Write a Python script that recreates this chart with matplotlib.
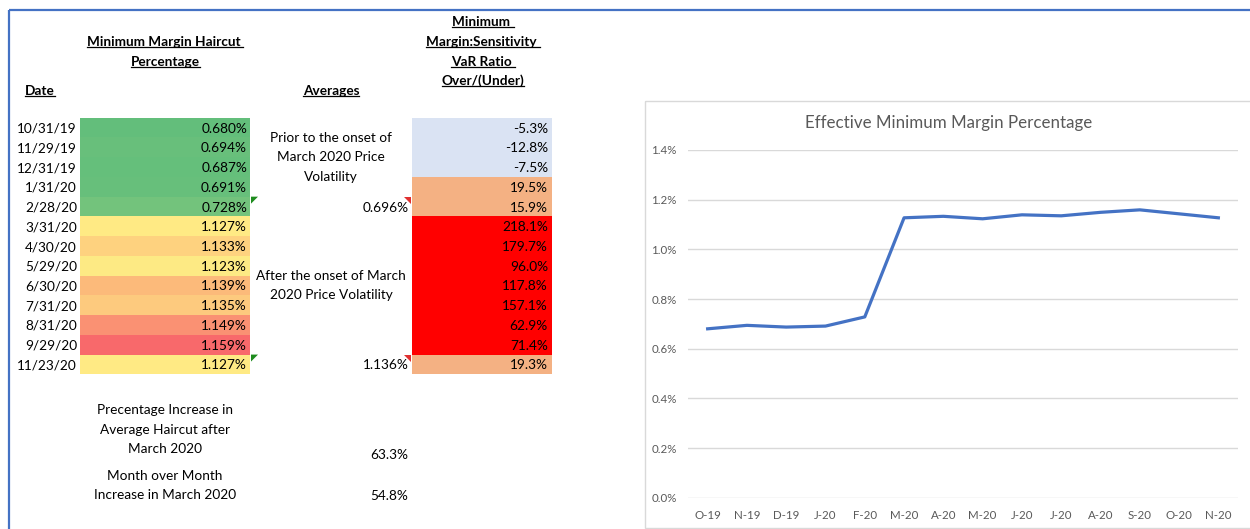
import matplotlib

matplotlib.use("Agg")
import matplotlib.pyplot as plt
import numpy as np
from matplotlib.colors import LinearSegmentedColormap, TwoSlopeNorm
from matplotlib.patches import Polygon, Rectangle
from matplotlib.ticker import PercentFormatter

plt.rcParams["font.family"] = ["Lato", "DejaVu Sans"]

# table data
dates = ["10/31/19", "11/29/19", "12/31/19", "1/31/20", "2/28/20", "3/31/20", "4/30/20",
         "5/29/20", "6/30/20", "7/31/20", "8/31/20", "9/29/20", "11/23/20"]
haircut_pct = [0.680, 0.694, 0.687, 0.691, 0.728, 1.127, 1.133,
               1.123, 1.139, 1.135, 1.149, 1.159, 1.127]
ratio_pct = [-5.3, -12.8, -7.5, 19.5, 15.9, 218.1, 179.7,
             96.0, 117.8, 157.1, 62.9, 71.4, 19.3]
avg_before = 0.696
avg_after = 1.136
pct_increase_avg = 63.3
mom_increase_march = 54.8

# chart data
chart_months = ["O-19", "N-19", "D-19", "J-20", "F-20", "M-20", "A-20",
                "M-20", "J-20", "J-20", "A-20", "S-20", "O-20", "N-20"]
effective_margin = [0.680, 0.694, 0.687, 0.691, 0.728, 1.127, 1.133,
                    1.123, 1.139, 1.135, 1.149, 1.159, 1.143, 1.127]

W, H = 1250, 529
fig = plt.figure(figsize=(W / 100, H / 100), dpi=100)
fig.patch.set_facecolor("white")

# full-figure axes in pixel units for the spreadsheet part
ax = fig.add_axes([0, 0, 1, 1])
ax.set_xlim(0, W)
ax.set_ylim(H, 0)
ax.axis("off")

FS = 9.8
row_top, row_h = 117.7, 19.74
n = len(dates)
centers = row_top + (np.arange(n) + 0.5) * row_h

# blue frame of the screenshot
ax.plot([9, W + 5], [10, 10], color="#4472C4", lw=1.6, solid_capstyle="butt")
ax.plot([9, 9], [10, H + 5], color="#4472C4", lw=1.6, solid_capstyle="butt")

# conditional-format colours (Excel 3-colour scale, midpoint = median)
cmap = LinearSegmentedColormap.from_list("excel3", ["#63BE7B", "#FFEB84", "#F8696B"])
norm = TwoSlopeNorm(vmin=min(haircut_pct), vcenter=float(np.median(haircut_pct)),
                    vmax=max(haircut_pct))
haircut_colors = [cmap(norm(v)) for v in haircut_pct]
ratio_colors = ["#DAE3F3" if v < 0 else "#F4B183" if v < 50 else "#FF0000" for v in ratio_pct]

ax.barh(centers, 170, left=80, height=row_h, color=haircut_colors, lw=0)
ax.barh(centers, 140, left=412, height=row_h, color=ratio_colors, lw=0)

for y, d, h, r in zip(centers, dates, haircut_pct, ratio_pct):
    ax.text(77, y + 1, d, ha="right", va="center", fontsize=FS)
    ax.text(247, y + 1, f"{h:.3f}%", ha="right", va="center", fontsize=FS)
    ax.text(548, y + 1, f"{r:.1f}%", ha="right", va="center", fontsize=FS)

ax.text(409, centers[4] + 1, f"{avg_before:.3f}%", ha="right", va="center", fontsize=FS)
ax.text(409, centers[12] + 1, f"{avg_after:.3f}%", ha="right", va="center", fontsize=FS)

# cell marker triangles
for i in (4, 12):
    top = row_top + i * row_h
    ax.add_patch(Polygon([(251, top), (258, top), (251, top + 7)], color="#1E8C1E", lw=0))
    ax.add_patch(Polygon([(404, top), (411, top), (411, top + 7)], color="#E03030", lw=0))


def lines(x, ys, texts, **kw):
    out = []
    for y, t in zip(ys, texts):
        out.append(ax.text(x, y, t, va="center", fontsize=FS, **kw))
    return out


underlined = []
underlined += lines(165, [42, 62], ["Minimum Margin Haircut ", "Percentage"],
                    ha="center", fontweight="bold")
underlined += lines(25, [91], ["Date"], ha="left", fontweight="bold")
underlined += lines(331, [91], ["Averages"], ha="center", fontweight="bold")
underlined += lines(483, [22, 42, 62, 81],
                    ["Minimum ", "Margin:Sensitivity ", "VaR Ratio ", "Over/(Under)"],
                    ha="center", fontweight="bold")

mid_before = row_top + 2 * row_h
lines(331, [mid_before - 19.5, mid_before, mid_before + 19.5],
      ["Prior to the onset of", "March 2020 Price", "Volatility"], ha="center")
mid_after = row_top + 8.5 * row_h
lines(331, [mid_after - 9.7, mid_after + 9.7],
      ["After the onset of March", "2020 Price Volatility"], ha="center")

lines(165, [410, 430, 449],
      ["Precentage Increase in", "Average Haircut after", "March 2020"], ha="center")
lines(408, [455], [f"{pct_increase_avg:.1f}%"], ha="right")
lines(165, [476, 495], ["Month over Month", "Increase in March 2020"], ha="center")
lines(408, [496], [f"{mom_increase_march:.1f}%"], ha="right")

# chart frame
ax.add_patch(Rectangle((645, 101), 620, 427, fill=False, edgecolor="#D9D9D9", lw=1.0))
ax.text(949, 123, "Effective Minimum Margin Percentage", ha="center", va="center",
        fontsize=12.2, color="#595959")

# line chart
cx = fig.add_axes([688 / W, (H - 497.7) / H, 550 / W, (497.7 - 150) / H])
cx.set_facecolor("none")
x = np.arange(len(chart_months))
cx.plot(x, effective_margin, color="#4472C4", lw=2.3, solid_joinstyle="round")
cx.set_xlim(-0.5, len(chart_months) - 0.5)
cx.set_ylim(0, 1.4)
cx.set_yticks(np.arange(0, 1.41, 0.2))
cx.yaxis.set_major_formatter(PercentFormatter(xmax=100, decimals=1))
cx.set_xticks(x)
cx.set_xticklabels(chart_months)
cx.grid(axis="y", color="#D9D9D9", lw=1.0)
cx.set_axisbelow(True)
for s in cx.spines.values():
    s.set_visible(False)
cx.tick_params(axis="both", length=0, labelsize=8.3, labelcolor="#595959")
cx.tick_params(axis="y", pad=8)
cx.tick_params(axis="x", pad=9)

# underline the bold headers
fig.canvas.draw()
renderer = fig.canvas.get_renderer()
inv = ax.transData.inverted()
for t in underlined:
    bb = t.get_window_extent(renderer)
    (x0, y0), (x1, _) = inv.transform([(bb.x0, bb.y0), (bb.x1, bb.y1)])
    ax.plot([x0, x1], [y0 - 1.5, y0 - 1.5], color="black", lw=0.9)

fig.savefig("out.png", dpi=100)
